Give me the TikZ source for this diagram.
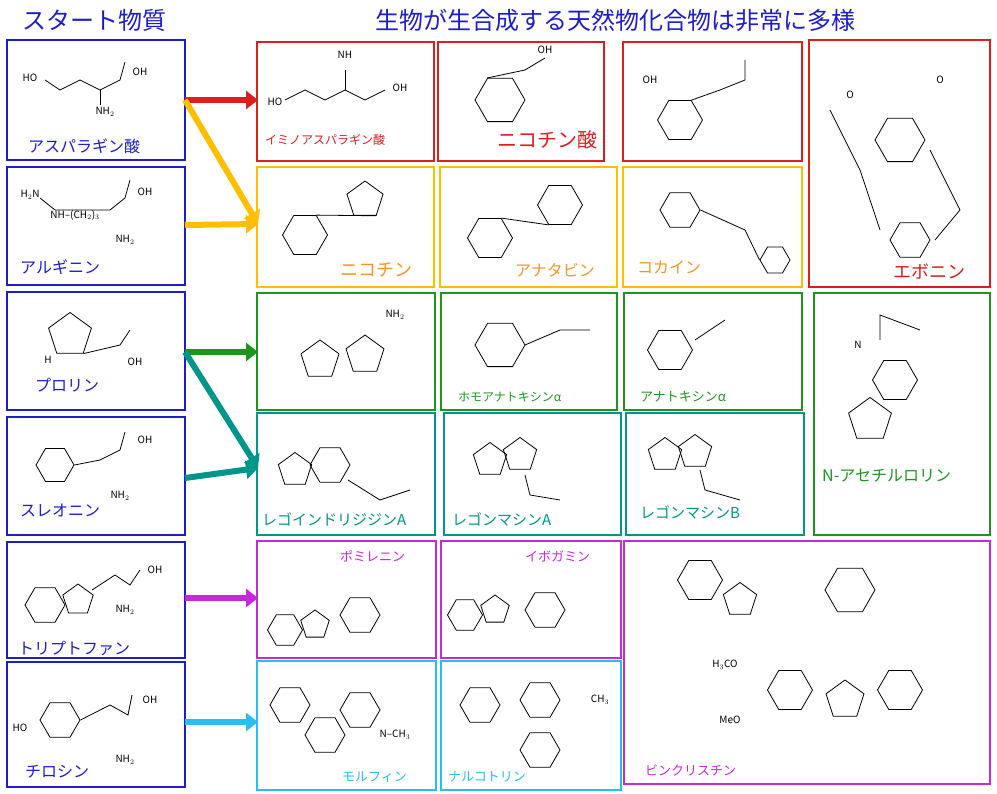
\documentclass[tikz,border=0pt]{standalone}
\usepackage{fontspec}
\setmainfont{Noto Sans CJK JP}
\usetikzlibrary{shapes.geometric,arrows.meta}
\definecolor{cnavy}{RGB}{30,30,200}
\definecolor{cred}{RGB}{220,30,30}
\definecolor{corange}{RGB}{255,190,0}
\definecolor{corlab}{RGB}{240,150,40}
\definecolor{cgreen}{RGB}{30,150,30}
\definecolor{cteal}{RGB}{0,150,140}
\definecolor{cmag}{RGB}{200,40,220}
\definecolor{ccyan}{RGB}{40,190,240}
\newcommand\fs[1]{\fontsize{#1}{#1}\selectfont}
\tikzset{
 bx/.style={draw=#1,line width=1.6pt},
 hex/.style={regular polygon,regular polygon sides=6,draw=black,line width=0.8pt,minimum size=#1,inner sep=0pt},
 pent/.style={regular polygon,regular polygon sides=5,draw=black,line width=0.8pt,minimum size=#1,inner sep=0pt},
 bond/.style={draw=black,line width=0.8pt},
 atm/.style={font=\fs{10},inner sep=1pt,text=black},
 arr/.style={line width=6pt,-{Triangle[length=12pt,width=18pt]},draw=#1},
 lab/.style={inner sep=0pt,anchor=west}
}
\begin{document}
\begin{tikzpicture}[x=1pt,y=-1pt]
\useasboundingbox (0,0) rectangle (997,794);
\fill[white] (0,0) rectangle (997,794);
\node[text=cnavy,font=\fs{24}] (t1) at (95,20) {スタート物質};
\node[text=cnavy,font=\fs{24}] (t2) at (615,20) {生物が生合成する天然物化合物は非常に多様};
% left boxes
\foreach \n/\ya/\yb in {a/40/160,b/167/285,c/292/410,d/417/535,e/542/658,f/662/787}
  \draw[bx=cnavy] (7,\ya) rectangle (185,\yb);
\node[lab,text=cnavy,font=\fs{16}] (la) at (28,146) {アスパラギン酸};
\node[lab,text=cnavy,font=\fs{16}] (lb) at (20,267) {アルギニン};
\node[lab,text=cnavy,font=\fs{16}] (lc) at (35,385) {プロリン};
\node[lab,text=cnavy,font=\fs{16}] (ld) at (20,510) {スレオニン};
\node[lab,text=cnavy,font=\fs{16}] (le) at (18,648) {トリプトファン};
\node[lab,text=cnavy,font=\fs{16}] (lf) at (25,772) {チロシン};
% right boxes
\draw[bx=cred] (257,42) rectangle (434,161);
\draw[bx=cred] (438,42) rectangle (604,161);
\draw[bx=cred] (623,42) rectangle (802,161);
\draw[bx=cred] (809,40) rectangle (990,287);
\draw[bx=corange] (257,167) rectangle (434,287);
\draw[bx=corange] (440,167) rectangle (617,287);
\draw[bx=corange] (623,167) rectangle (802,287);
\draw[bx=cgreen] (257,293) rectangle (435,410);
\draw[bx=cgreen] (441,293) rectangle (617,410);
\draw[bx=cgreen] (624,293) rectangle (802,410);
\draw[bx=cgreen] (814,293) rectangle (990,535);
\draw[bx=cteal] (257,413) rectangle (435,535);
\draw[bx=cteal] (444,413) rectangle (621,535);
\draw[bx=cteal] (626,413) rectangle (804,535);
\draw[bx=cmag] (257,541) rectangle (436,658);
\draw[bx=cmag] (441,541) rectangle (621,658);
\draw[bx=cmag] (624,541) rectangle (990,784);
\draw[bx=ccyan] (257,661) rectangle (436,790);
\draw[bx=ccyan] (441,661) rectangle (621,790);
% labels
\node[lab,text=cred,font=\fs{12}] (r1) at (265,140) {イミノアスパラギン酸};
\node[lab,text=cred,font=\fs{20}] (r2) at (497,140) {ニコチン酸};
\node[lab,text=cred,font=\fs{18}] (r4) at (893,272) {エボニン};
\node[lab,text=corlab,font=\fs{18}] (o1) at (340,270) {ニコチン};
\node[lab,text=corlab,font=\fs{16}] (o2) at (515,270) {アナタビン};
\node[lab,text=corlab,font=\fs{16}] (o3) at (637,267) {コカイン};
\node[lab,text=cgreen,font=\fs{12}] (g2) at (458,397) {ホモアナトキシンα};
\node[lab,text=cgreen,font=\fs{13}] (g3) at (640,397) {アナトキシンα};
\node[lab,text=cgreen,font=\fs{16}] (g4) at (822,476) {N-アセチルロリン};
\node[lab,text=cteal,font=\fs{15}] (s1) at (262,519) {レゴインドリジジンA};
\node[lab,text=cteal,font=\fs{15}] (s2) at (452,519) {レゴンマシンA};
\node[lab,text=cteal,font=\fs{15}] (s3) at (640,512) {レゴンマシンB};
\node[lab,text=cmag,font=\fs{13}] (m1) at (340,556) {ポミレニン};
\node[lab,text=cmag,font=\fs{13}] (m2) at (525,556) {イボガミン};
\node[lab,text=cmag,font=\fs{13}] (m3) at (645,770) {ビンクリスチン};
\node[lab,text=ccyan,font=\fs{13}] (c1) at (342,777) {モルフィン};
\node[lab,text=ccyan,font=\fs{13}] (c2) at (448,777) {ナルコトリン};
% arrows
\coordinate (pa) at (185,100); \coordinate (pb) at (185,225);
\coordinate (pc) at (185,352); \coordinate (pd) at (185,478);
\coordinate (pe) at (185,598); \coordinate (pf) at (185,722);
\coordinate (qa) at (258,100); \coordinate (qb) at (258,224);
\coordinate (qc) at (258,352); \coordinate (qd) at (258,468);
\coordinate (qe) at (258,598); \coordinate (qf) at (258,722);
\draw[arr=cred] (pa) -- (qa);
\draw[arr=corange] (pa) -- (qb);
\draw[arr=corange] (pb) -- (qb);
\draw[arr=cgreen] (pc) -- (qc);
\draw[arr=cteal] (pc) -- (qd);
\draw[arr=cteal] (pd) -- (qd);
\draw[arr=cmag] (pe) -- (qe);
\draw[arr=ccyan] (pf) -- (qf);
% ---- simplified structures ----
\draw[bond] (45,80)--(60,90)--(80,80)--(100,90)--(120,80)--(125,62);
\node[atm] (aa1) at (30,78) {HO}; \node[atm] (aa2) at (140,72) {OH};
\node[atm] (aa3) at (105,112) {NH$_2$};
\draw[bond] (100,90)--(100,105);
\draw[bond] (40,198)--(55,210)--(110,210)--(125,198)--(130,180);
\node[atm] (ab1) at (30,195) {H$_2$N}; \node[atm] (ab2) at (75,215) {NH–(CH$_2$)$_3$};
\node[atm] (ab3) at (145,192) {OH}; \node[atm] (ab4) at (125,240) {NH$_2$};
\node[pent=45] (pr) at (70,335) {};
\draw[bond] (pr.corner 4)--(120,345)--(130,330); \node[atm] (pr1) at (135,362) {OH};
\node[atm] (pr2) at (48,360) {H};
\node[hex=38] (ph) at (55,465) {};
\draw[bond] (ph.corner 6)--(100,460)--(120,450)--(125,432);
\node[atm] (ph1) at (145,440) {OH}; \node[atm] (ph2) at (120,496) {NH$_2$};
\node[hex=40] (tr1) at (45,605) {}; \node[pent=32] (tr2) at (78,600) {};
\draw[bond] (92,590)--(115,575)--(130,585)--(140,570);
\node[atm] (tr3) at (155,570) {OH}; \node[atm] (tr4) at (125,610) {NH$_2$};
\node[hex=40] (ty) at (60,720) {}; \node[atm] (ty1) at (20,728) {HO};
\draw[bond] (ty.corner 6)--(110,705)--(128,715)--(132,695);
\node[atm] (ty2) at (150,700) {OH}; \node[atm] (ty3) at (125,760) {NH$_2$};
\draw[bond] (285,100)--(305,90)--(325,100)--(345,90)--(365,100)--(385,90);
\draw[bond] (345,90)--(345,70); \node[atm] (ri1) at (345,55) {NH};
\node[atm] (ri2) at (275,102) {HO}; \node[atm] (ri3) at (400,88) {OH};
\node[hex=50] (na) at (500,100) {}; \draw[bond] (na.corner 2)--(525,70)--(545,58);
\node[atm] (na1) at (545,50) {OH};
\node[hex=45] (rc) at (680,120) {}; \draw[bond] (rc.corner 1)--(720,90)--(745,80)--(745,60);
\node[atm] (rc1) at (650,80) {OH};
\node[hex=50] (ev1) at (900,140) {}; \node[hex=40] (ev2) at (910,240) {};
\draw[bond] (830,110)--(860,170)--(880,230); \draw[bond] (930,150)--(960,210)--(935,240);
\node[atm] (ev3) at (850,95) {O}; \node[atm] (ev4) at (940,80) {O};
\node[hex=45] (ni1) at (305,235) {}; \node[pent=38] (ni2) at (365,200) {};
\draw[bond] (ni1.corner 1)--(ni2.corner 4);
\node[hex=45] (an1) at (490,238) {}; \node[hex=45] (an2) at (560,205) {};
\draw[bond] (an1.corner 1)--(an2.corner 4);
\node[hex=40] (co1) at (680,210) {}; \node[hex=30] (co2) at (775,260) {};
\draw[bond] (co1.corner 6)--(745,230)--(co2.corner 3);
\node[pent=40] (pg1) at (320,360) {}; \node[pent=40] (pg2) at (365,355) {};
\node[atm] (pg3) at (395,315) {NH$_2$};
\node[hex=50] (hg1) at (500,345) {}; \draw[bond] (525,345)--(560,330)--(590,330);
\node[hex=45] (ag1) at (670,350) {}; \draw[bond] (695,340)--(725,320);
\node[pent=45] (nl1) at (870,420) {}; \node[hex=45] (nl2) at (895,380) {};
\draw[bond] (880,340)--(880,315)--(920,330); \node[atm] (nl3) at (858,345) {N};
\node[hex=40] (te1) at (330,465) {}; \node[pent=35] (te2) at (295,470) {};
\draw[bond] (348,480)--(380,500)--(410,490);
\node[pent=35] (te3) at (490,460) {}; \node[pent=35] (te4) at (520,455) {};
\draw[bond] (525,475)--(530,495)--(560,500);
\node[pent=35] (te5) at (665,455) {}; \node[pent=35] (te6) at (695,452) {};
\draw[bond] (700,470)--(705,490)--(740,500);
\node[hex=35] (mg1) at (285,630) {}; \node[pent=30] (mg2) at (315,625) {};
\node[hex=40] (mg3) at (360,615) {};
\node[hex=35] (mg4) at (465,615) {}; \node[pent=30] (mg5) at (495,610) {};
\node[hex=40] (mg6) at (545,610) {};
\node[hex=45] (vi1) at (700,580) {}; \node[pent=35] (vi2) at (740,600) {};
\node[hex=50] (vi3) at (850,590) {}; \node[hex=45] (vi4) at (790,690) {};
\node[pent=40] (vi5) at (845,700) {}; \node[hex=45] (vi6) at (900,690) {};
\node[atm] (vi7) at (725,665) {H$_3$CO}; \node[atm] (vi8) at (730,720) {MeO};
\node[hex=40] (mo1) at (290,705) {}; \node[hex=40] (mo2) at (325,735) {};
\node[hex=40] (mo3) at (360,710) {}; \node[atm] (mo4) at (395,735) {N–CH$_3$};
\node[hex=40] (na1b) at (480,705) {}; \node[hex=40] (na2b) at (540,700) {};
\node[hex=40] (na3b) at (540,750) {}; \node[atm] (na4b) at (600,700) {CH$_3$};
\end{tikzpicture}
\end{document}
